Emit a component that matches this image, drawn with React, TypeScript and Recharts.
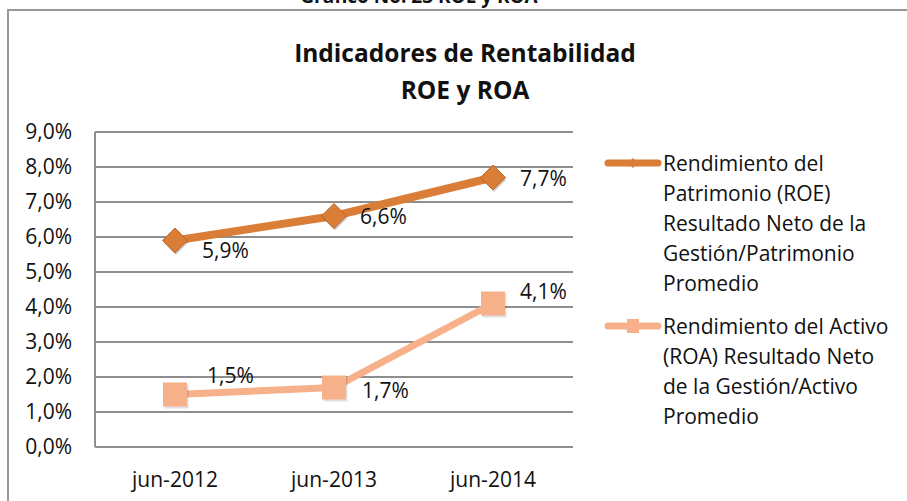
import React from 'react';
import { LineChart, Line, XAxis, YAxis, CartesianGrid, Legend, LabelList } from 'recharts';

const categories = ['jun-2012', 'jun-2013', 'jun-2014'];
const roeValues = [5.9, 6.6, 7.7];
const roaValues = [1.5, 1.7, 4.1];
const yTicks = [0, 1, 2, 3, 4, 5, 6, 7, 8, 9];
const roeLegendLines = ['Rendimiento del', 'Patrimonio (ROE)', 'Resultado Neto de la', 'Gestión/Patrimonio', 'Promedio'];
const roaLegendLines = ['Rendimiento del Activo', '(ROA) Resultado Neto', 'de la Gestión/Activo', 'Promedio'];
const captionText = 'Gráfico No. 23 ROE y ROA';
const titleLines = ['Indicadores de Rentabilidad', 'ROE y ROA'];

const data = categories.map((c, i) => ({ cat: c, roe: roeValues[i], roa: roaValues[i] }));

const FONT = '"Open Sans", sans-serif';
const ROE_COLOR = '#DA7D37';
const ROE_EDGE = '#B9652B';
const ROA_COLOR = '#F6B18B';
const GRID = '#8E8E8E';

// label placement (style), per point index: [dx from point to left edge, dy to text center]
const roeLabelOffsets = [[27, 9], [26, 0], [27, 0]];
const roaLabelOffsets = [[32, -20], [28, 2], [27, -13]];

const fmt = (v: number) => v.toFixed(1).replace('.', ',') + '%';

const makeLabel = (offsets: number[][]) => (props: any) => {
  const { x, y, index, value } = props;
  const [dx, dy] = offsets[index] || [0, 0];
  return (
    <text x={x + dx} y={y + dy} dominantBaseline="central" textAnchor="start" fontFamily={FONT} fontSize={21} fill="#111">
      {fmt(value)}
    </text>
  );
};

const DiamondDot = (props: any) => {
  const { cx, cy } = props;
  const r = 12.5;
  return (
    <g>
      <polygon points={`${cx + 1},${cy - r + 2} ${cx + r + 1},${cy + 2} ${cx + 1},${cy + r + 2} ${cx - r + 1},${cy + 2}`} fill="rgba(0,0,0,0.18)" />
      <polygon points={`${cx},${cy - r} ${cx + r},${cy} ${cx},${cy + r} ${cx - r},${cy}`} fill={ROE_COLOR} stroke={ROE_EDGE} strokeWidth={1} />
    </g>
  );
};

const SquareDot = (props: any) => {
  const { cx, cy } = props;
  const s = 12;
  return (
    <g>
      <rect x={cx - s + 1.5} y={cy - s + 2} width={2 * s} height={2 * s} fill="rgba(0,0,0,0.12)" />
      <rect x={cx - s} y={cy - s} width={2 * s} height={2 * s} fill={ROA_COLOR} />
    </g>
  );
};

const LegendContent = () => {
  const entry = (lines: string[], color: string, marker: 'diamond' | 'square', mt: number) => (
    <div style={{ display: 'flex', alignItems: 'flex-start', marginTop: mt }}>
      <svg width={60} height={30} style={{ flex: '0 0 auto' }}>
        <line x1={5} y1={15} x2={55} y2={15} stroke={color} strokeWidth={7} strokeLinecap="round" />
        {marker === 'diamond' ? (
          <polygon points="30,10 35,15 30,20 25,15" fill={color} />
        ) : (
          <rect x={24} y={8} width={12} height={14} fill={color} />
        )}
      </svg>
      <div style={{ fontFamily: FONT, fontSize: 21, lineHeight: '30px', color: '#111', whiteSpace: 'nowrap' }}>
        {lines.map((l, i) => (
          <div key={i}>{l}</div>
        ))}
      </div>
    </div>
  );
  return (
    <div>
      {entry(roeLegendLines, ROE_COLOR, 'diamond', 0)}
      {entry(roaLegendLines, ROA_COLOR, 'square', 13)}
    </div>
  );
};

export default function App() {
  return (
    <div style={{ position: 'fixed', left: 0, top: 0, width: 907, height: 501, overflow: 'hidden', background: '#fff' }}>
      <div
        style={{
          position: 'absolute', left: 0, width: 838, top: -13, textAlign: 'center',
          fontFamily: FONT, fontWeight: 700, fontSize: 19, lineHeight: '19px', color: '#111', whiteSpace: 'nowrap',
        }}
      >
        {captionText}
      </div>
      <div style={{ position: 'absolute', left: 7, top: 9, width: 960, height: 560, borderTop: '2px solid #979797', borderLeft: '2px solid #979797' }} />
      <div
        style={{
          position: 'absolute', left: 0, width: 930, top: 34, textAlign: 'center',
          fontFamily: FONT, fontWeight: 700, fontSize: 24.5, lineHeight: '37px', color: '#111',
        }}
      >
        {titleLines.map((l, i) => (
          <div key={i}>{l}</div>
        ))}
      </div>
      <div style={{ position: 'absolute', left: 0, top: 0 }}>
        <LineChart width={907} height={501} data={data} margin={{ top: 132, right: 334, bottom: 0, left: 0 }}>
          <CartesianGrid vertical={false} stroke={GRID} strokeWidth={2} />
          <XAxis
            dataKey="cat"
            height={54}
            padding={{ left: 80, right: 80 }}
            tickLine={false}
            tickMargin={19}
            axisLine={{ stroke: GRID, strokeWidth: 2 }}
            tick={{ fontFamily: FONT, fontSize: 21, fill: '#111' }}
            interval={0}
          />
          <YAxis
            width={95}
            domain={[0, 9]}
            ticks={yTicks}
            tickFormatter={fmt}
            tickLine={false}
            tickMargin={17}
            axisLine={{ stroke: GRID, strokeWidth: 2 }}
            tick={{ fontFamily: FONT, fontSize: 21, fill: '#111' }}
            interval={0}
          />
          <Legend
            layout="horizontal"
            verticalAlign="middle"
            align="center"
            content={<LegendContent />}
            wrapperStyle={{ position: 'absolute', left: 603, top: 148, width: 304, height: 300 }}
          />
          <Line
            type="linear"
            dataKey="roe"
            stroke={ROE_COLOR}
            strokeWidth={8}
            dot={<DiamondDot />}
            activeDot={false}
            isAnimationActive={false}
          >
            <LabelList dataKey="roe" content={makeLabel(roeLabelOffsets)} />
          </Line>
          <Line
            type="linear"
            dataKey="roa"
            stroke={ROA_COLOR}
            strokeWidth={7}
            dot={<SquareDot />}
            activeDot={false}
            isAnimationActive={false}
          >
            <LabelList dataKey="roa" content={makeLabel(roaLabelOffsets)} />
          </Line>
        </LineChart>
      </div>
    </div>
  );
}
